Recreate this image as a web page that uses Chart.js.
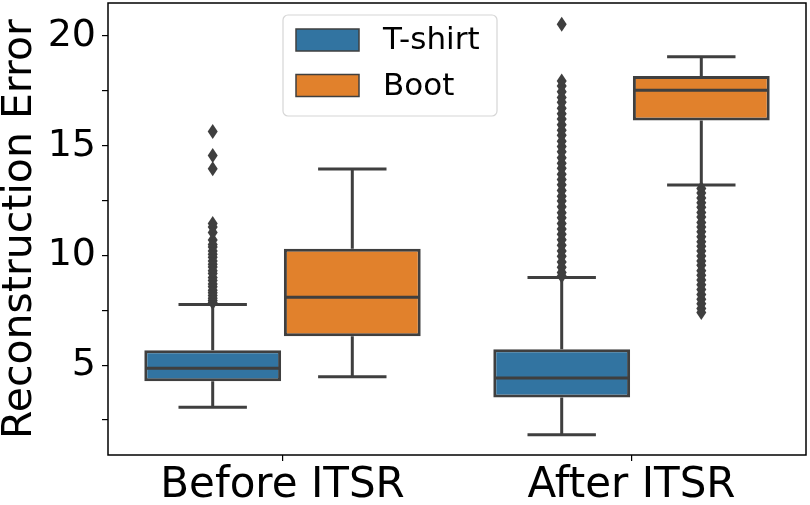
<!DOCTYPE html>
<html>
<head>
<meta charset="utf-8">
<script src="https://cdn.jsdelivr.net/npm/chart.js@4.4.0/dist/chart.umd.min.js"></script>
<style>
  html, body { margin: 0; padding: 0; background: #fff; }
  #wrap { width: 810px; height: 505px; }
</style>
</head>
<body>
<div id="wrap"><canvas id="myChart" width="810" height="505"></canvas></div>
<script>
// categories and series
const groups = ['Before ITSR', 'After ITSR'];
const seriesNames = ['T-shirt', 'Boot'];
const seriesColors = ['#3274a1', '#e1812c'];

// yTicks every 2.5, label only multiples of 5
const yMin = 0.91;
const yMax = 21.5;
const yStep = 2.5;

// box stats per group: [Before, After]
const tshirtLow = [3.09, 1.83];
const tshirtQ1 = [4.27, 3.53];
const tshirtMedian = [4.86, 4.42];
const tshirtQ3 = [5.68, 5.73];
const tshirtHigh = [7.77, 9.0];
const tshirtOutliers = [
  [15.65, 14.55, 13.95, 11.45, 11.3, 11.05, 10.7, 10.5, 10.38, 10.2, 10.05, 9.92, 9.75, 9.6, 9.47, 9.3,
   9.18, 9.0, 8.86, 8.7, 8.58, 8.42, 8.3, 8.18, 8.05, 7.95, 7.86],
  [20.53, 17.95, 17.72, 17.46, 17.2, 16.98, 16.7, 16.46, 16.22, 15.95, 15.7, 15.48, 15.2, 14.96, 14.72,
   14.45, 14.2, 13.97, 13.7, 13.46, 13.22, 12.96, 12.7, 12.48, 12.22, 11.95, 11.72, 11.46, 11.2, 10.97,
   10.72, 10.46, 10.2, 9.96, 9.7, 9.46, 9.22, 9.06]
];

const bootLow = [4.47, 13.21];
const bootQ1 = [6.32, 16.15];
const bootMedian = [8.1, 17.53];
const bootQ3 = [10.3, 18.17];
const bootHigh = [13.94, 19.05];
const bootOutliers = [
  [],
  [13.05, 12.85, 12.62, 12.4, 12.2, 11.96, 11.75, 11.5, 11.3, 11.08, 10.85, 10.62, 10.42, 10.2, 9.98,
   9.75, 9.55, 9.3, 9.1, 8.88, 8.66, 8.45, 8.22, 8.0, 7.8, 7.58, 7.4]
];

const stats = [
  { low: tshirtLow, q1: tshirtQ1, med: tshirtMedian, q3: tshirtQ3, high: tshirtHigh, out: tshirtOutliers },
  { low: bootLow, q1: bootQ1, med: bootMedian, q3: bootQ3, high: bootHigh, out: bootOutliers }
];

const edge = '#3f3f3f';
const fontFam = '"DejaVu Sans", Verdana, sans-serif';

const boxPlugin = {
  id: 'boxParts',
  afterDatasetsDraw(chart) {
    const ctx = chart.ctx;
    const y = chart.scales.y;
    ctx.save();
    stats.forEach((s, di) => {
      const meta = chart.getDatasetMeta(di);
      meta.data.forEach((bar, i) => {
        const cx = bar.x;
        const half = bar.width / 2;
        ctx.strokeStyle = edge;
        ctx.lineWidth = 3;
        ctx.lineCap = 'butt';
        // whiskers
        ctx.beginPath();
        ctx.moveTo(cx, y.getPixelForValue(s.q3[i]));
        ctx.lineTo(cx, y.getPixelForValue(s.high[i]));
        ctx.moveTo(cx, y.getPixelForValue(s.q1[i]));
        ctx.lineTo(cx, y.getPixelForValue(s.low[i]));
        // caps
        ctx.moveTo(cx - half / 2, y.getPixelForValue(s.high[i]));
        ctx.lineTo(cx + half / 2, y.getPixelForValue(s.high[i]));
        ctx.moveTo(cx - half / 2, y.getPixelForValue(s.low[i]));
        ctx.lineTo(cx + half / 2, y.getPixelForValue(s.low[i]));
        // median
        ctx.moveTo(cx - half + 1, y.getPixelForValue(s.med[i]));
        ctx.lineTo(cx + half - 1, y.getPixelForValue(s.med[i]));
        ctx.stroke();
        // outliers as thin diamonds
        ctx.fillStyle = edge;
        s.out[i].forEach(v => {
          const py = y.getPixelForValue(v);
          ctx.beginPath();
          ctx.moveTo(cx, py - 7.5);
          ctx.lineTo(cx + 5, py);
          ctx.lineTo(cx, py + 7.5);
          ctx.lineTo(cx - 5, py);
          ctx.closePath();
          ctx.fill();
        });
      });
    });
    ctx.restore();
  },
  afterDraw(chart) {
    const ctx = chart.ctx;
    const a = chart.chartArea;
    ctx.save();
    // frame
    ctx.strokeStyle = '#000';
    ctx.lineWidth = 1.5;
    ctx.strokeRect(a.left, a.top, a.right - a.left, a.bottom - a.top);

    // legend
    const lx = a.left + 175, ly = a.top + 12, lw = 214, lh = 101, r = 5;
    ctx.beginPath();
    ctx.moveTo(lx + r, ly);
    ctx.arcTo(lx + lw, ly, lx + lw, ly + lh, r);
    ctx.arcTo(lx + lw, ly + lh, lx, ly + lh, r);
    ctx.arcTo(lx, ly + lh, lx, ly, r);
    ctx.arcTo(lx, ly, lx + lw, ly, r);
    ctx.closePath();
    ctx.fillStyle = 'rgba(255,255,255,0.8)';
    ctx.fill();
    ctx.strokeStyle = '#d6d6d6';
    ctx.lineWidth = 1.2;
    ctx.stroke();

    ctx.font = '31px ' + fontFam;
    ctx.textBaseline = 'middle';
    ctx.textAlign = 'left';
    seriesNames.forEach((name, k) => {
      const py = ly + 14 + k * 45.5;
      ctx.fillStyle = seriesColors[k];
      ctx.fillRect(lx + 13, py, 63, 22);
      ctx.strokeStyle = edge;
      ctx.lineWidth = 1.5;
      ctx.strokeRect(lx + 13, py, 63, 22);
      ctx.fillStyle = '#000';
      ctx.fillText(name, lx + 100, py + 12);
    });
    ctx.restore();
  }
};

new Chart(document.getElementById('myChart'), {
  type: 'bar',
  data: {
    labels: groups,
    datasets: stats.map((s, k) => ({
      label: seriesNames[k],
      data: s.q1.map((v, i) => [v, s.q3[i]]),
      backgroundColor: seriesColors[k],
      borderColor: edge,
      borderWidth: 3,
      borderSkipped: false,
      categoryPercentage: 0.8,
      barPercentage: 0.98
    }))
  },
  options: {
    responsive: false,
    animation: false,
    layout: { padding: { top: 3, right: 4, left: 0, bottom: 0 } },
    plugins: {
      legend: { display: false },
      tooltip: { enabled: false }
    },
    scales: {
      x: {
        grid: { display: true, offset: false, drawOnChartArea: false, drawTicks: true, tickLength: 6, color: '#000', lineWidth: 1.2 },
        border: { display: false },
        ticks: { color: '#000', font: { family: fontFam, size: 42 }, padding: 0, maxRotation: 0 },
        afterFit(scale) { scale.height = 50; scale.paddingLeft = 0; scale.paddingRight = 0; }
      },
      y: {
        min: yMin,
        max: yMax,
        grid: { display: true, drawOnChartArea: false, drawTicks: true, tickLength: 6, color: '#000', lineWidth: 1.2 },
        border: { display: false },
        ticks: {
          stepSize: yStep,
          includeBounds: false,
          autoSkip: false,
          color: '#000',
          padding: 6,
          font: { family: fontFam, size: 38 },
          callback: v => (v % 5 === 0 ? String(v) : '')
        },
        title: {
          display: true,
          text: 'Reconstruction Error',
          color: '#000',
          font: { family: fontFam, size: 41, lineHeight: 1 },
          padding: { top: 0, bottom: 0 }
        },
        afterFit(scale) { scale.width = 108; scale.paddingTop = 0; scale.paddingBottom = 0; }
      }
    }
  },
  plugins: [boxPlugin]
});
</script>
</body>
</html>
